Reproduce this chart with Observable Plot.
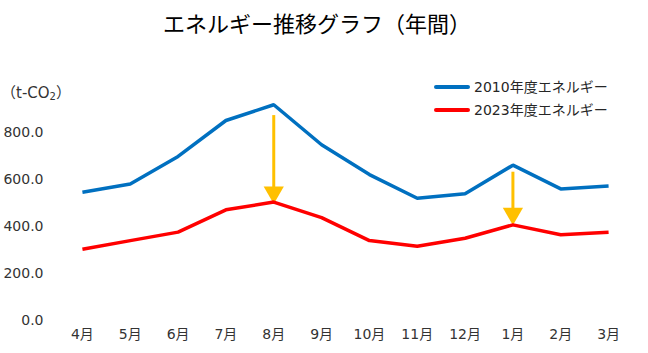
<!DOCTYPE html>
<html><head><meta charset="utf-8">
<script src="https://cdn.jsdelivr.net/npm/d3@7"></script>
<script src="https://cdn.jsdelivr.net/npm/@observablehq/plot@0.6"></script>
<style>
body{margin:0;background:#fff;font-family:"DejaVu Sans","Noto Sans CJK JP",sans-serif;}
#wrap{position:relative;width:648px;height:353px;overflow:hidden;}
#title{position:absolute;left:0;width:634px;top:4px;text-align:center;font-family:"Noto Sans CJK JP",sans-serif;font-size:22px;color:#000;line-height:36px;}
#unit{position:absolute;left:1px;top:83px;font-size:15px;color:#333;line-height:20px;}
#unit sub{font-size:10px;vertical-align:-2px;}
.leg{position:absolute;left:434px;font-size:14px;color:#262626;line-height:20px;display:flex;align-items:center;}
.leg span.sw{display:inline-block;width:36px;height:4px;border-radius:2px;margin-right:4px;}
#chart{position:absolute;left:0;top:0;}
#chart svg text{font-size:14px;}
</style></head><body>
<div id="wrap">
<div id="chart"></div>
<div id="title">エネルギー推移グラフ（年間）</div>
<div id="unit">（t-CO<sub>2</sub>）</div>
<div id="legend"></div>
</div>
<script>
const months = ["4月","5月","6月","7月","8月","9月","10月","11月","12月","1月","2月","3月"];
const series2010 = [546,581,698,851,918,748,621,520,539,661,560,572];
const series2023 = [303,340,376,471,504,438,340,316,350,407,365,376];
const seriesNames = ["2010年度エネルギー","2023年度エネルギー"];
const seriesColors = ["#0070C0","#FF0000"];
const yTicks = [0,200,400,600,800];
const arrowMonths = ["8月","1月"];
const arrowFrom = [872,631];
const arrowTo = [520,430];

const rows = [];
months.forEach((m,i)=>{
  rows.push({month:m, value:series2010[i], series:seriesNames[0]});
  rows.push({month:m, value:series2023[i], series:seriesNames[1]});
});
const arrows = arrowMonths.map((m,i)=>({month:m, from:arrowFrom[i], to:arrowTo[i]}));

const chart = Plot.plot({
  width:648, height:353,
  marginLeft:58, marginRight:16, marginTop:85, marginBottom:33,
  style:{fontFamily:'"DejaVu Sans","Noto Sans CJK JP",sans-serif', fontSize:"14px", color:"#333", background:"transparent"},
  x:{type:"point", domain:months, padding:0.5, round:false, label:null, tickSize:0, tickPadding:9},
  y:{domain:[0,1000], label:null, ticks:yTicks, tickFormat:d3.format(".1f"), tickSize:0, tickPadding:15},
  color:{domain:seriesNames, range:seriesColors},
  marks:[
    Plot.gridY(yTicks,{stroke:"#d9d9d9", strokeOpacity:1, strokeWidth:1, x1:58, x2:632}),
    Plot.ruleX(arrows,{x:"month", y1:"from", y2:d=>d.to+35, stroke:"#FFC000", strokeWidth:3}),
    Plot.dot(arrows,{x:"month", y:d=>d.to+25, symbol:"triangle", rotate:180, r:7.5, fill:"#FFC000", stroke:"none"}),
    Plot.line(rows,{x:"month", y:"value", z:"series", stroke:"series", strokeWidth:3.5, strokeLinejoin:"miter", strokeLinecap:"butt"})
  ]
});
document.getElementById("chart").appendChild(chart);

const leg = document.getElementById("legend");
seriesNames.forEach((n,i)=>{
  const d = document.createElement("div");
  d.className="leg";
  d.style.top = (77 + i*23) + "px";
  d.innerHTML = `<span class="sw" style="background:${seriesColors[i]}"></span>${n}`;
  leg.appendChild(d);
});
</script>
</body></html>
